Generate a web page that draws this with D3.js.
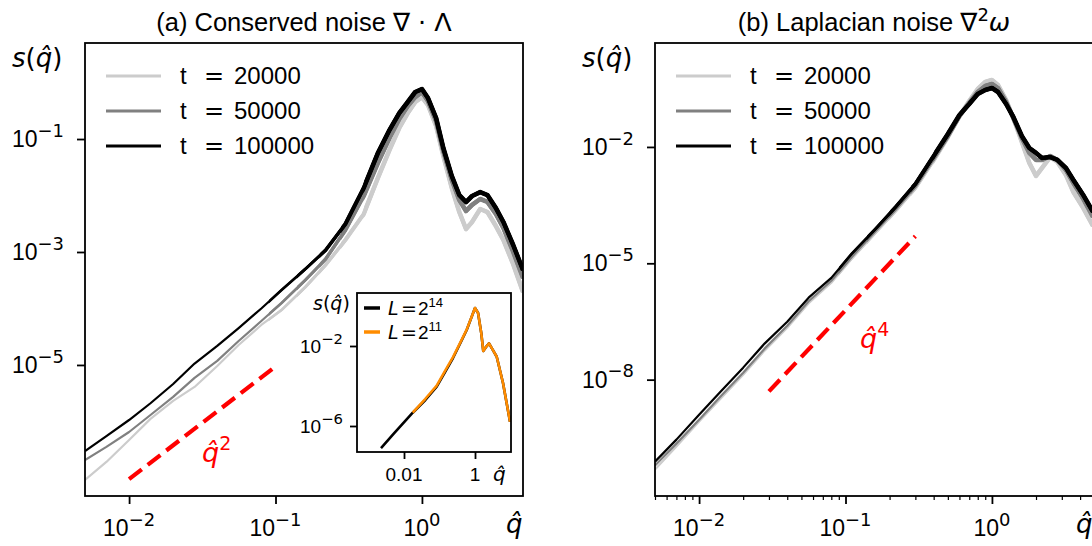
<!DOCTYPE html>
<html>
<head>
<meta charset="utf-8">
<script src="https://cdn.jsdelivr.net/npm/d3@7"></script>
<style>
  body { margin: 0; background: #fff; }
  svg { display: block; }
</style>
</head>
<body>
<svg id="chart" width="1092" height="546"></svg>
<script>
// q-hat values shared by every curve of both panels.
const qHat = [0.005, 0.007, 0.01, 0.014, 0.02, 0.028, 0.04, 0.056, 0.08, 0.11,
    0.16, 0.22, 0.3, 0.4, 0.5, 0.6, 0.7, 0.8, 0.9, 1.0, 1.1, 1.25, 1.4, 1.6,
    1.8, 2.0, 2.2, 2.5, 2.8, 3.2, 3.6, 4.2, 4.9];

// (a) Conserved noise, s(q) for each time.
const conservedT20000 = [9.2e-8, 1.92e-7, 4.7e-7, 1.11e-6, 2.31e-6, 4.08e-6, 9.6e-6,
    2.26e-5, 5.1e-5, 9.4e-5, 2.4e-4, 5.9e-4, 1.63e-3, 4.7e-3, 0.0204, 0.0638, 0.157,
    0.288, 0.452, 0.553, 0.40, 0.170, 0.05, 0.0136, 0.0051, 0.00255, 0.0034, 0.00577,
    0.0051, 0.00288, 0.00163, 6.1e-4, 1.96e-4];
const conservedT50000 = [2.08e-7, 3.54e-7, 6.5e-7, 1.30e-6, 2.72e-6, 5.9e-6, 1.18e-5,
    2.66e-5, 6.0e-5, 1.25e-4, 3.19e-4, 7.5e-4, 2.45e-3, 9.8e-3, 0.0376, 0.104, 0.226,
    0.384, 0.553, 0.679, 0.47, 0.208, 0.0614, 0.0188, 0.0083, 0.00532, 0.0068, 0.00867,
    0.0077, 0.00471, 0.00266, 0.001, 3.47e-4];
const conservedT100000 = [3.0e-7, 5.5e-7, 1.06e-6, 2.1e-6, 4.6e-6, 1.06e-5, 2.17e-5,
    4.5e-5, 1.0e-4, 2.12e-4, 5.0e-4, 1.08e-3, 3.13e-3, 1.36e-2, 5.65e-2, 0.144, 0.288,
    0.452, 0.68, 0.767, 0.532, 0.235, 0.0693, 0.0221, 0.0102, 0.00767, 0.0098, 0.0115,
    0.0102, 0.0060, 0.0034, 0.00133, 4.8e-4];

// (b) Laplacian noise, s(q) for each time.
const laplacianT20000 = [4.8e-11, 1.88e-10, 8.3e-10, 3.24e-9, 1.34e-8, 5.6e-8, 2.18e-7,
    9.3e-7, 3.15e-6, 1.31e-5, 6.1e-5, 2.25e-4, 8.8e-4, 4.62e-3, 0.0181, 0.0628, 0.153,
    0.312, 0.472, 0.531, 0.395, 0.162, 0.0558, 0.0135, 0.00387, 0.00179, 0.00288, 0.0055,
    0.00411, 0.0019, 6.9e-4, 2.69e-4, 9.2e-5];
const laplacianT50000 = [6.1e-11, 2.24e-10, 9.3e-10, 3.65e-9, 1.51e-8, 6.3e-8, 2.45e-7,
    1.05e-6, 3.54e-6, 1.47e-5, 6.9e-5, 2.53e-4, 9.9e-4, 5.2e-3, 0.0192, 0.0628, 0.136,
    0.261, 0.372, 0.419, 0.330, 0.144, 0.0558, 0.0171, 0.0070, 0.00462, 0.00462, 0.00586,
    0.00462, 0.00256, 0.00118, 4.58e-4, 1.57e-4];
const laplacianT100000 = [7.7e-11, 2.84e-10, 1.25e-9, 4.9e-9, 2.04e-8, 8.5e-8, 3.11e-7,
    1.3e-6, 4.2e-6, 1.75e-5, 7.7e-5, 2.85e-4, 1.11e-3, 5.9e-3, 0.0216, 0.0667, 0.128,
    0.232, 0.294, 0.330, 0.261, 0.128, 0.0593, 0.0192, 0.0094, 0.0070, 0.0052, 0.0055,
    0.00462, 0.00288, 0.00141, 5.8e-4, 2.12e-4];

const timeLabels = ["20000", "50000", "100000"];
const timeColors = ["#cccccc", "#808080", "#000000"];

// Guide lines for the small-q power laws.
const slope2Q = [0.01, 0.1];
const slope2S = [9.5e-8, 9.4e-6];
const slope4Q = [0.03, 0.3];
const slope4S = [5e-9, 5e-5];

// Inset: system size comparison for the conserved noise.
const insetQ14 = [0.00225, 0.005, 0.0176, 0.04, 0.0834, 0.15, 0.24, 0.4, 0.583, 0.8,
    1.0, 1.22, 1.5, 1.71, 2.0, 2.48, 3.2, 4.09, 6.15, 9.7];
const insetS14 = [7.9e-8, 3.9e-7, 4.6e-6, 2.0e-5, 9.2e-5, 5.7e-4, 2.5e-3, 0.0158, 0.063,
    0.278, 0.79, 0.447, 0.045, 0.0056, 0.0085, 0.0135, 0.0062, 0.0029, 1.41e-4, 1.64e-6];
const insetQ11 = [0.0176, 0.04, 0.0834, 0.15, 0.24, 0.4, 0.583, 0.8, 1.0, 1.22, 1.5,
    1.71, 2.0, 2.48, 3.2, 4.09, 6.15, 9.7];
const insetS11 = [4.6e-6, 2.3e-5, 1.05e-4, 6.6e-4, 2.8e-3, 0.017, 0.066, 0.28, 0.79,
    0.447, 0.045, 0.0056, 0.0085, 0.0135, 0.0062, 0.0029, 1.41e-4, 1.64e-6];

const textFont = "'Liberation Sans', Arial, sans-serif";
const mathFont = "'DejaVu Sans', sans-serif";

const svg = d3.select("#chart");
const defs = svg.append("defs");

function expText(e) {
    return e < 0 ? "\u2212" + (-e) : String(e);
}

function powerLabel(text, exponent, size) {
    /*
    Writes 10^exponent into a text element.
    */
    text.append("tspan").text("10");
    text.append("tspan")
        .attr("font-family", mathFont)
        .attr("font-size", size * 0.78)
        .attr("dy", -size * 0.45)
        .text(expText(exponent));
}

function sLabel(parent, x, y, size) {
    /*
    The s(q-hat) axis label.
    */
    let t = parent.append("text")
        .attr("x", x).attr("y", y)
        .attr("font-family", mathFont)
        .attr("font-size", size);
    t.append("tspan").attr("font-style", "italic").text("s");
    t.append("tspan").text("(");
    t.append("tspan").attr("font-style", "italic").text("q\u0302");
    t.append("tspan").text(")");
    return t;
}

function qLabel(parent, x, y, size) {
    return parent.append("text")
        .attr("x", x).attr("y", y)
        .attr("font-family", mathFont)
        .attr("font-style", "italic")
        .attr("font-size", size)
        .text("q\u0302");
}

function drawPanel(p) {
    /*
    Draws one log-log panel with three time curves.
    */
    let x = d3.scaleLog().domain(p.xDomain).range([p.left, p.right]);
    let y = d3.scaleLog().domain(p.yDomain).range([p.bottom, p.top]);

    let line = d3.line()
        .x(function(d) { return x(d[0]); })
        .y(function(d) { return y(d[1]); });

    // Clip zones: the noisy high-q part of each curve looks thicker.
    let zones = [
        {from: p.xDomain[0], width: 2.2},
        {from: 0.09, width: 2.6},
        {from: 0.14, width: 3.0},
        {from: 0.2, width: 3.5},
        {from: 0.28, width: 4.0},
        {from: 0.4, width: 4.6}
    ];
    zones.forEach(function(z, i) {
        defs.append("clipPath").attr("id", p.id + "-zone" + i)
            .append("rect")
            .attr("x", x(z.from))
            .attr("y", p.top)
            .attr("width", p.right - x(z.from))
            .attr("height", p.bottom - p.top);
    });

    let g = svg.append("g");

    p.series.forEach(function(values, k) {
        let pts = qHat.map(function(q, i) { return [q, values[i]]; });
        zones.forEach(function(z, i) {
            g.append("path")
                .attr("d", line(pts))
                .attr("clip-path", "url(#" + p.id + "-zone" + i + ")")
                .attr("fill", "none")
                .attr("stroke", timeColors[k])
                .attr("stroke-width", z.width)
                .attr("stroke-linejoin", "round");
        });
    });

    // Power-law guide.
    let guide = p.guideQ.map(function(q, i) { return [q, p.guideS[i]]; });
    g.append("path")
        .attr("d", line(guide))
        .attr("fill", "none")
        .attr("stroke", "#ff0000")
        .attr("stroke-width", 4.2)
        .attr("stroke-dasharray", "16,7.5");

    let gt = g.append("text")
        .attr("x", p.guideText[0]).attr("y", p.guideText[1])
        .attr("font-family", mathFont)
        .attr("font-size", 27)
        .attr("fill", "#ff0000");
    gt.append("tspan").attr("font-style", "italic").text("q\u0302");
    gt.append("tspan").attr("font-size", 19).attr("dy", -12).text(p.guidePower);

    // Frame.
    g.append("rect")
        .attr("x", p.left).attr("y", p.top)
        .attr("width", p.right - p.left).attr("height", p.bottom - p.top)
        .attr("fill", "none")
        .attr("stroke", "#000")
        .attr("stroke-width", 1.8);

    // Bottom axis.
    let xAxis = g.append("g")
        .attr("transform", "translate(0," + p.bottom + ")")
        .call(d3.axisBottom(x).tickValues(p.xTicks).tickSize(8).tickFormat(""));
    xAxis.select(".domain").remove();
    xAxis.selectAll(".tick line").attr("stroke-width", 1.8);

    if (p.minorX) {
        let minor = x.ticks().filter(function(v) {
            return Math.abs(Math.log10(v) - Math.round(Math.log10(v))) > 1e-6;
        });
        let mAxis = g.append("g")
            .attr("transform", "translate(0," + p.bottom + ")")
            .call(d3.axisBottom(x).tickValues(minor).tickSize(4).tickFormat(""));
        mAxis.select(".domain").remove();
        mAxis.selectAll(".tick line").attr("stroke-width", 1.2);
    }

    p.xTicks.forEach(function(v) {
        let t = g.append("text")
            .attr("x", x(v)).attr("y", 536)
            .attr("text-anchor", "middle")
            .attr("font-family", textFont)
            .attr("font-size", 23);
        powerLabel(t, Math.round(Math.log10(v)), 23);
    });

    // Left axis.
    let yAxis = g.append("g")
        .attr("transform", "translate(" + p.left + ",0)")
        .call(d3.axisLeft(y).tickValues(p.yTicks).tickSize(8).tickFormat(""));
    yAxis.select(".domain").remove();
    yAxis.selectAll(".tick line").attr("stroke-width", 1.8);

    p.yTicks.forEach(function(v) {
        let t = g.append("text")
            .attr("x", p.left - 21).attr("y", y(v) + 8)
            .attr("text-anchor", "end")
            .attr("font-family", textFont)
            .attr("font-size", 23);
        powerLabel(t, Math.round(Math.log10(v)), 23);
    });

    sLabel(g, p.left - 73, 67, 26);
    qLabel(g, p.right - 17, 533, 26);

    // Title.
    let title = g.append("text")
        .attr("x", (p.left + p.right) / 2).attr("y", 31)
        .attr("text-anchor", "middle")
        .attr("font-family", textFont)
        .attr("font-size", 25.5);
    p.title(title);

    // Legend.
    timeLabels.forEach(function(lab, k) {
        let ly = p.top + 33 + k * 35;
        g.append("line")
            .attr("x1", p.left + 21).attr("x2", p.left + 76)
            .attr("y1", ly).attr("y2", ly)
            .attr("stroke", timeColors[k])
            .attr("stroke-width", 3.2);
        let t = g.append("text")
            .attr("y", ly + 8)
            .attr("font-family", textFont)
            .attr("font-size", 24);
        t.append("tspan").attr("x", p.left + 95).text("t");
        t.append("tspan").attr("x", p.left + 119).attr("font-family", mathFont).text("=");
        t.append("tspan").attr("x", p.left + 149).text(lab);
    });

    return {x: x, y: y};
}

drawPanel({
    id: "a",
    left: 85, right: 523, top: 43, bottom: 496,
    xDomain: [0.005, 4.9],
    yDomain: [Math.pow(10, -7.32), Math.pow(10, 0.70)],
    xTicks: [0.01, 0.1, 1],
    yTicks: [1e-1, 1e-3, 1e-5],
    minorX: false,
    series: [conservedT20000, conservedT50000, conservedT100000],
    guideQ: slope2Q, guideS: slope2S,
    guideText: [202, 462], guidePower: "2",
    title: function(t) {
        t.append("tspan").text("(a) Conserved noise ");
        t.append("tspan").attr("font-family", mathFont).text("\u2207 \u00b7 \u039b");
    }
});

drawPanel({
    id: "b",
    left: 655, right: 1093, top: 43, bottom: 496,
    xDomain: [0.005, 4.9],
    yDomain: [1e-11, Math.pow(10, 0.68)],
    xTicks: [0.01, 0.1, 1],
    yTicks: [1e-2, 1e-5, 1e-8],
    minorX: true,
    series: [laplacianT20000, laplacianT50000, laplacianT100000],
    guideQ: slope4Q, guideS: slope4S,
    guideText: [860, 348], guidePower: "4",
    title: function(t) {
        t.append("tspan").text("(b) Laplacian noise ");
        t.append("tspan").attr("font-family", mathFont).text("\u2207");
        t.append("tspan").attr("font-family", mathFont).attr("font-size", 18)
            .attr("dy", -10).text("2");
        t.append("tspan").attr("font-family", mathFont).attr("font-style", "italic")
            .attr("dy", 10).text("\u03c9");
    }
});

// Inset in panel (a).
function drawInset() {
    let box = {left: 357, right: 511, top: 293, bottom: 452};
    let x = d3.scaleLog()
        .domain([Math.pow(10, -3.324), Math.pow(10, 1.014)])
        .range([box.left, box.right]);
    let y = d3.scaleLog()
        .domain([Math.pow(10, -7.3), Math.pow(10, 0.65)])
        .range([box.bottom, box.top]);

    let g = svg.append("g");
    g.append("rect")
        .attr("x", box.left).attr("y", box.top)
        .attr("width", box.right - box.left).attr("height", box.bottom - box.top)
        .attr("fill", "#fff");

    defs.append("clipPath").attr("id", "inset-clip")
        .append("rect")
        .attr("x", box.left).attr("y", box.top)
        .attr("width", box.right - box.left).attr("height", box.bottom - box.top);

    let line = d3.line()
        .x(function(d) { return x(d[0]); })
        .y(function(d) { return y(d[1]); });

    let curves = [
        {q: insetQ14, s: insetS14, color: "#000000", label: "14"},
        {q: insetQ11, s: insetS11, color: "#ff8c00", label: "11"}
    ];
    curves.forEach(function(c) {
        g.append("path")
            .attr("d", line(c.q.map(function(q, i) { return [q, c.s[i]]; })))
            .attr("clip-path", "url(#inset-clip)")
            .attr("fill", "none")
            .attr("stroke", c.color)
            .attr("stroke-width", 2.6)
            .attr("stroke-linejoin", "round");
    });

    g.append("rect")
        .attr("x", box.left).attr("y", box.top)
        .attr("width", box.right - box.left).attr("height", box.bottom - box.top)
        .attr("fill", "none")
        .attr("stroke", "#000")
        .attr("stroke-width", 1.8);

    let xAxis = g.append("g")
        .attr("transform", "translate(0," + box.bottom + ")")
        .call(d3.axisBottom(x).tickValues([0.01, 1]).tickSize(7).tickFormat(""));
    xAxis.select(".domain").remove();
    xAxis.selectAll(".tick line").attr("stroke-width", 1.8);

    [[0.01, "0.01"], [1, "1"]].forEach(function(d) {
        g.append("text")
            .attr("x", x(d[0])).attr("y", 481)
            .attr("text-anchor", "middle")
            .attr("font-family", textFont)
            .attr("font-size", 19)
            .text(d[1]);
    });
    qLabel(g, 493, 481, 20);

    let yAxis = g.append("g")
        .attr("transform", "translate(" + box.left + ",0)")
        .call(d3.axisLeft(y).tickValues([1e-2, 1e-6]).tickSize(7).tickFormat(""));
    yAxis.select(".domain").remove();
    yAxis.selectAll(".tick line").attr("stroke-width", 1.8);

    [1e-2, 1e-6].forEach(function(v) {
        let t = g.append("text")
            .attr("x", box.left - 14).attr("y", y(v) + 7)
            .attr("text-anchor", "end")
            .attr("font-family", textFont)
            .attr("font-size", 19);
        powerLabel(t, Math.round(Math.log10(v)), 19);
    });

    sLabel(g, 313, 310, 19);

    // Inset legend.
    curves.forEach(function(c, k) {
        let ly = 308 + k * 24;
        g.append("line")
            .attr("x1", 364).attr("x2", 380)
            .attr("y1", ly).attr("y2", ly)
            .attr("stroke", c.color)
            .attr("stroke-width", 3.5);
        let t = g.append("text")
            .attr("y", ly + 7)
            .attr("font-family", mathFont)
            .attr("font-size", 19);
        t.append("tspan").attr("x", 388).attr("font-style", "italic").text("L");
        t.append("tspan").attr("x", 401).text("=");
        t.append("tspan").attr("x", 418).attr("font-family", textFont).text("2");
        t.append("tspan").attr("font-family", textFont).attr("font-size", 13)
            .attr("dy", -8).text(c.label);
    });
}

drawInset();
</script>
</body>
</html>
